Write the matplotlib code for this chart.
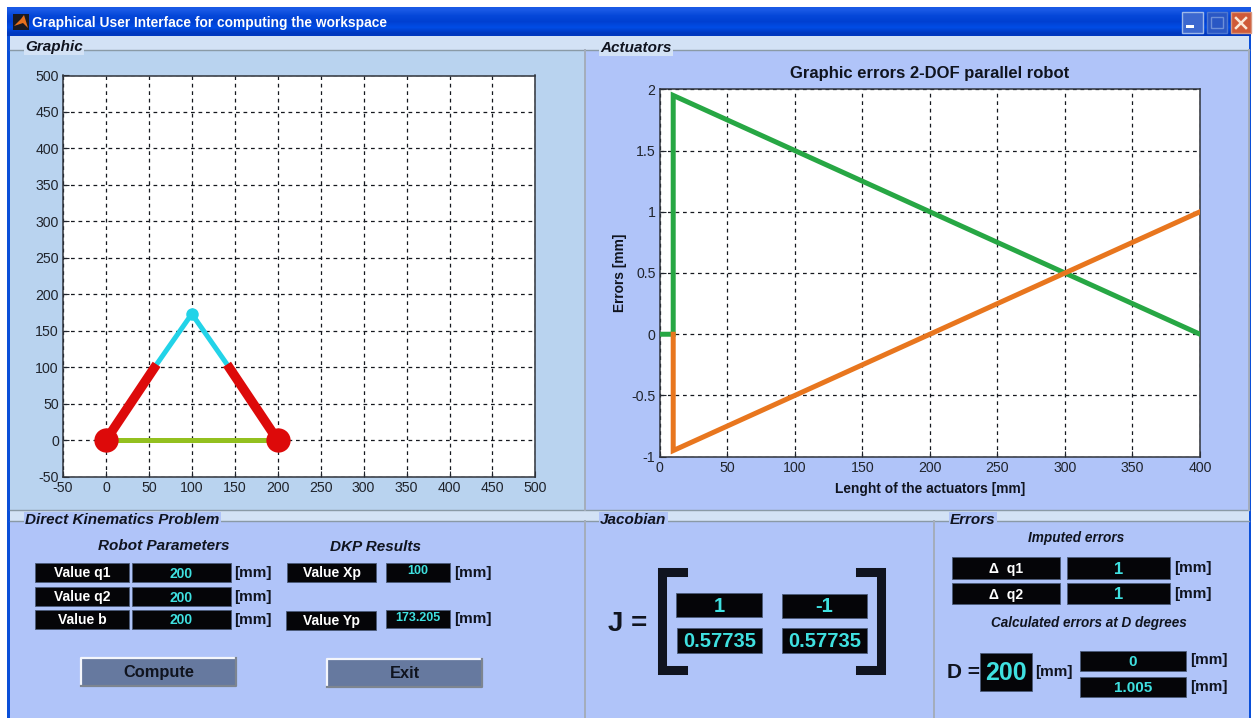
import numpy as np
import matplotlib
matplotlib.use('Agg')
import matplotlib.pyplot as plt
from matplotlib.patches import Rectangle, Polygon

plt.rcParams['font.family'] = ['Liberation Sans', 'DejaVu Sans']
plt.rcParams['axes.unicode_minus'] = False

W, H = 1253, 718

# left plot: robot links
base_x = [0, 200]
base_y = [0, 0]
act1_x = [0, 59]
act1_y = [0, 104]
act2_x = [200, 141]
act2_y = [0, 104]
arm1_x = [59, 100]
arm1_y = [104, 173.205]
arm2_x = [141, 100]
arm2_y = [104, 173.205]
joint_x = [0, 200]
joint_y = [0, 0]
end_x = [100]
end_y = [173.205]
left_xticks = list(range(-50, 501, 50))
left_yticks = list(range(-50, 501, 50))

# right plot: errors
err1_x = [0, 10, 10, 400]
err1_y = [0, 0, 1.95, 0]
err2_x = [10, 10, 400]
err2_y = [0, -0.95, 1]
right_xticks = list(range(0, 401, 50))
right_yticks = [-1, -0.5, 0, 0.5, 1, 1.5, 2]
right_ylabels = ['-1', '-0.5', '0', '0.5', '1', '1.5', '2']

BLUE_PANEL = '#b0c4f9'
SKY_PANEL = '#b9d3ef'
STRIP = '#d3e2f5'
CYAN = '#3fe0e0'
TXT = '#10141f'


def axes_px(fig, left, top, right, bottom):
    return fig.add_axes([left / W, 1 - bottom / H, (right - left) / W, (bottom - top) / H])


def box(ax, x0, y0, x1, y1, label, color=CYAN, size=10, dy=1):
    ax.add_patch(Rectangle((x0, y0), x1 - x0, y1 - y0, fc='#050508', ec='#4a5a78', lw=0.6))
    ax.text((x0 + x1) / 2, (y0 + y1) / 2 + dy, label, color=color, fontsize=size, fontweight='bold',
            ha='center', va='center')


def button(ax, x0, y0, x1, y1, label):
    ax.add_patch(Rectangle((x0, y0), x1 - x0, y1 - y0, fc='#66799f', ec='none'))
    ax.plot([x0, x0, x1], [y1, y0, y0], color='#f4f6fb', lw=1.6)
    ax.plot([x0, x1, x1], [y1, y1, y0], color='#7d8590', lw=1.6)
    ax.text((x0 + x1) / 2, (y0 + y1) / 2, label, color=TXT, fontsize=11.8, fontweight='bold',
            ha='center', va='center')


def group_title(ax, x, y, label, bg):
    ax.text(x, y, label, color=TXT, fontsize=11, fontweight='bold', fontstyle='italic', va='center',
            bbox=dict(fc=bg, ec='none', pad=1.0))


def mm(ax, x, y, size=11):
    ax.text(x, y, '[mm]', color=TXT, fontsize=size, fontweight='bold', va='center')


fig = plt.figure(figsize=(W / 100, H / 100), dpi=100, facecolor='white')
ui = fig.add_axes([0, 0, 1, 1], zorder=0)

# title bar
grad = np.array([[0.10, 0.35, 0.90], [0.02, 0.28, 0.85], [0.0, 0.25, 0.82], [0.0, 0.30, 0.90], [0.0, 0.22, 0.75]])
ui.imshow(grad[:, None, :], extent=[7, 1251, 36, 7], aspect='auto', interpolation='bilinear', zorder=1)
ui.set_xlim(0, W)
ui.set_ylim(H, 0)
ui.axis('off')

# window frame and panels
ui.add_patch(Rectangle((7, 36), 1244, H - 36, fc='#0a4fd8', ec='none', zorder=1))
ui.add_patch(Rectangle((10, 36), 1239, H - 36, fc=BLUE_PANEL, ec='none', zorder=1))
ui.add_patch(Rectangle((10, 50), 575, 461, fc=SKY_PANEL, ec='none', zorder=1))
ui.add_patch(Rectangle((10, 36), 1239, 14, fc=STRIP, ec='none', zorder=1))
ui.add_patch(Rectangle((10, 510), 1239, 11, fc=STRIP, ec='none', zorder=1))
for yy in [50, 521, 510]:
    ui.plot([10, 1249], [yy, yy], color='#8a9aa6', lw=1, zorder=2)
for xx, y0, y1 in [(585, 50, 510), (585, 521, H), (934, 521, H), (1249, 50, 510)]:
    ui.plot([xx, xx], [y0, y1], color='#a4adbb', lw=1.4, zorder=2)

ui.text(32, 23, 'Graphical User Interface for computing the workspace', color='white',
        fontsize=9.9, fontweight='bold', va='center', zorder=3)
ui.add_patch(Rectangle((13, 14), 16, 16, fc='#1a1a22', ec='none', zorder=3))
ui.add_patch(Polygon([(14, 26), (21, 19), (24, 15), (28, 28), (23, 23)], fc='#e8701c', ec='none', zorder=4))

# window buttons
ui.add_patch(Rectangle((1182, 12), 21, 21, fc='#3c68cf', ec='#9db8e8', lw=1, zorder=3))
ui.add_patch(Rectangle((1186, 25), 8, 3, fc='white', ec='none', zorder=4))
ui.add_patch(Rectangle((1207, 12), 20, 21, fc='#2a57c4', ec='#4f78d0', lw=1, zorder=3))
ui.add_patch(Rectangle((1211, 17), 12, 11, fc='none', ec='#6d8fd8', lw=1, zorder=4))
ui.add_patch(Rectangle((1231, 12), 20, 21, fc='#cf5a38', ec='#d89880', lw=1, zorder=3))
ui.plot([1236, 1246], [18, 28], color='#fbe8d8', lw=1.8, zorder=4)
ui.plot([1246, 1236], [18, 28], color='#fbe8d8', lw=1.8, zorder=4)

group_title(ui, 25, 47, 'Graphic', STRIP)
group_title(ui, 600, 48, 'Actuators', STRIP)
group_title(ui, 25, 520, 'Direct Kinematics Problem', BLUE_PANEL)
group_title(ui, 600, 520, 'Jacobian', BLUE_PANEL)
group_title(ui, 950, 520, 'Errors', BLUE_PANEL)

# direct kinematics panel
ui.text(164, 546, 'Robot Parameters', color=TXT, fontsize=11, fontweight='bold', fontstyle='italic', ha='center', va='center')
ui.text(376, 547, 'DKP Results', color=TXT, fontsize=11, fontweight='bold', fontstyle='italic', ha='center', va='center')
box(ui, 35, 563, 129, 582, 'Value q1', 'white')
box(ui, 132, 563, 231, 582, '200')
box(ui, 35, 587, 129, 606, 'Value q2', 'white')
box(ui, 132, 587, 231, 606, '200')
box(ui, 35, 610, 129, 629, 'Value b', 'white')
box(ui, 132, 610, 231, 629, '200')
box(ui, 287, 563, 376, 582, 'Value Xp', 'white')
box(ui, 386, 563, 450, 582, '100', CYAN, 9, -1)
box(ui, 286, 611, 376, 630, 'Value Yp', 'white')
box(ui, 386, 610, 450, 628, '173.205', CYAN, 9, -1)
for mx, my in [(234, 573), (234, 597), (234, 620), (454, 573), (454, 619)]:
    mm(ui, mx, my)
button(ui, 81, 658, 236, 686, 'Compute')
button(ui, 327, 659, 482, 687, 'Exit')

# jacobian panel
ui.text(608, 624, 'J =', color=TXT, fontsize=20, fontweight='bold', va='center')
ui.plot([683, 662, 662, 683], [572, 572, 670, 670], color='#10141f', lw=6.5, solid_joinstyle='miter', zorder=3)
ui.plot([860, 881, 881, 860], [572, 572, 670, 670], color='#10141f', lw=6.5, solid_joinstyle='miter', zorder=3)
box(ui, 676, 593, 762, 617, '1', CYAN, 14.5)
box(ui, 782, 594, 867, 618, '-1', CYAN, 14.5)
box(ui, 677, 628, 762, 653, '0.57735', CYAN, 14.5)
box(ui, 782, 628, 867, 653, '0.57735', CYAN, 14.5)

# errors panel
ui.text(1076, 538, 'Imputed errors', color=TXT, fontsize=9.8, fontweight='bold', fontstyle='italic', ha='center', va='center')
ui.text(1089, 623, 'Calculated errors at D degrees', color=TXT, fontsize=9.75, fontweight='bold', fontstyle='italic', ha='center', va='center')
box(ui, 952, 557, 1060, 579, '\u0394  q1', 'white', 10)
box(ui, 1067, 557, 1170, 579, '1', CYAN, 12)
box(ui, 952, 583, 1060, 604, '\u0394  q2', 'white', 10)
box(ui, 1067, 583, 1170, 604, '1', CYAN, 12)
mm(ui, 1174, 568)
mm(ui, 1174, 594)
ui.text(947, 673, 'D =', color=TXT, fontsize=15, fontweight='bold', va='center')
box(ui, 980, 653, 1032, 691, '200', CYAN, 18)
mm(ui, 1035, 672)
box(ui, 1080, 651, 1186, 671, '0', CYAN, 11)
box(ui, 1080, 677, 1186, 697, '1.005', CYAN, 11)
mm(ui, 1190, 660)
mm(ui, 1190, 687)

# left chart
ax = axes_px(fig, 63, 75.5, 535.4, 476.7)
ax.set_zorder(2)
ax.plot(base_x, base_y, color='#93c01f', lw=3.6, zorder=3)
ax.plot(arm1_x, arm1_y, color='#22d3e8', lw=3.6, zorder=3)
ax.plot(arm2_x, arm2_y, color='#22d3e8', lw=3.6, zorder=3)
ax.plot(act1_x, act1_y, color='#dd0a0a', lw=6.8, zorder=4, solid_capstyle='butt')
ax.plot(act2_x, act2_y, color='#dd0a0a', lw=6.8, zorder=4, solid_capstyle='butt')
ax.plot(joint_x, joint_y, 'o', color='#dd0a0a', ms=17.5, mew=0, zorder=5)
ax.plot(end_x, end_y, 'o', color='#22d3e8', ms=9, mew=0, zorder=5)
ax.set_xlim(-50, 500)
ax.set_ylim(-50, 500)
ax.set_xticks(left_xticks)
ax.set_yticks(left_yticks)

# right chart
ax2 = axes_px(fig, 659.7, 89.3, 1200, 456.7)
ax2.set_zorder(2)
ax2.plot(err1_x, err1_y, color='#27a744', lw=3.6, zorder=3, solid_joinstyle='miter')
ax2.plot(err2_x, err2_y, color='#e8761e', lw=3.6, zorder=4, solid_joinstyle='miter')
ax2.set_xlim(0, 400)
ax2.set_ylim(-1, 2)
ax2.set_xticks(right_xticks)
ax2.set_yticks(right_yticks)
ax2.set_yticklabels(right_ylabels)
ax2.set_xlabel('Lenght of the actuators [mm]', fontsize=9.9, fontweight='bold', color=TXT, labelpad=5)
ax2.set_ylabel('Errors [mm]', fontsize=9.9, fontweight='bold', color=TXT, labelpad=3)
ax2.set_title('Graphic errors 2-DOF parallel robot', fontsize=12, fontweight='bold', color=TXT, pad=8)

for a in (ax, ax2):
    a.set_facecolor('white')
    a.grid(True, color='#15181f', ls=(0, (3, 3)), lw=0.9, zorder=1)
    a.set_axisbelow(True)
    a.tick_params(direction='in', length=4, width=0.8, labelsize=10.2, colors='#20242c', pad=3)
    for s in a.spines.values():
        s.set_color('#30343c')
        s.set_linewidth(1.1)

fig.savefig('out.png', dpi=100)
